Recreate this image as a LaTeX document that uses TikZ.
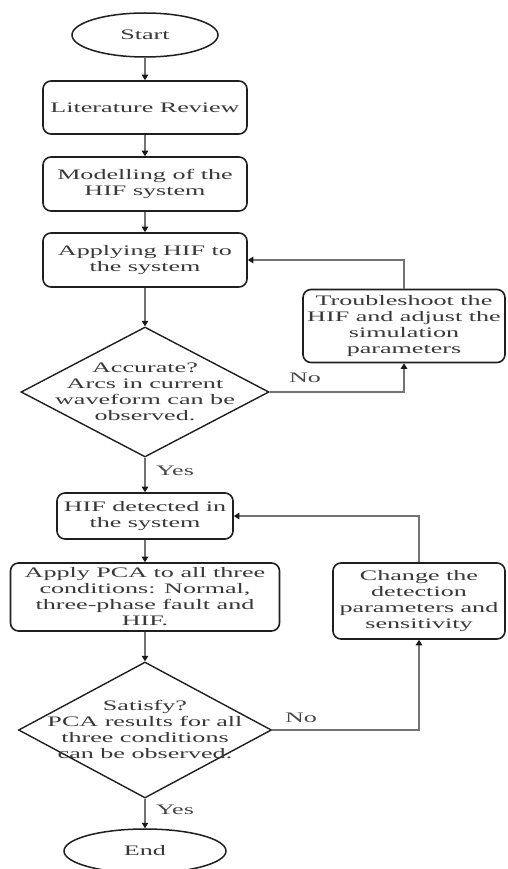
\documentclass[tikz,border=0pt]{standalone}
\usepackage{fontspec}
\setmainfont{Liberation Serif}[FakeStretch=1.8]
\usetikzlibrary{shapes.geometric,arrows.meta}
\begin{document}
\begin{tikzpicture}[x=1pt,y=-1pt,
  every node/.style={font=\fontsize{14.5}{16}\selectfont, text=black!78, align=center},
  box/.style={draw=black!88, line width=1.6pt, rounded corners=8pt, fill=white, inner sep=0pt},
  term/.style={ellipse, draw=black!88, line width=1.5pt, inner sep=0pt},
  dia/.style={diamond, draw=black!88, line width=1.4pt, inner sep=0pt},
  conn/.style={draw=black!55, line width=1.2pt, -{Triangle[width=6.5pt,length=5.5pt,color=black!90]}},
  lbl/.style={text=black!72}]
\useasboundingbox (0,0) rectangle (507,869);
\fill[white] (0,0) rectangle (507,869);

\node[term, minimum width=146pt, minimum height=44pt] (start) at (145,35) {Start};
\node[box, minimum width=204pt, minimum height=53pt] (lit) at (145,107.5) {Literature Review};
\node[box, minimum width=204pt, minimum height=54pt] (model) at (145,184) {Modelling of the\\HIF system};
\node[box, minimum width=204pt, minimum height=54pt] (apply) at (145,260) {Applying HIF to\\the system};
\node[dia, minimum width=248pt, minimum height=130pt] (dec1) at (145,392) {};
\node (dec1t) at (145,392) {Accurate?\\Arcs in current\\waveform can be\\observed.};
\node[box, minimum width=202pt, minimum height=73pt] (trouble) at (404,326) {Troubleshoot the\\HIF and adjust the\\simulation\\parameters};
\node[box, minimum width=176pt, minimum height=46pt] (hif) at (145,516) {HIF detected in\\the system};
\node[box, minimum width=269pt, minimum height=68pt] (pca) at (145,597) {Apply PCA to all three\\conditions: Normal,\\three-phase fault and\\HIF.};
\node[box, minimum width=172pt, minimum height=76pt] (change) at (419,601) {Change the\\detection\\parameters and\\sensitivity};
\node[dia, minimum width=253pt, minimum height=136pt] (dec2) at (145,730) {};
\node (dec2t) at (145,729) {Satisfy?\\PCA results for all\\three conditions\\can be observed.};
\node[term, minimum width=162pt, minimum height=44pt] (end) at (145,851) {End};

\node[lbl] (no1) at (305,378) {No};
\node[lbl] (yes1) at (175,471) {Yes};
\node[lbl] (no2) at (301,718) {No};
\node[lbl] (yes2) at (175,810) {Yes};

\draw[conn] (start) -- (lit);
\draw[conn] (lit) -- (model);
\draw[conn] (model) -- (apply);
\draw[conn] (apply) -- (dec1);
\draw[conn] (dec1) -- (hif);
\draw[conn] (hif) -- (pca);
\draw[conn] (pca) -- (dec2);
\draw[conn] (dec2) -- (end);
\draw[conn] (dec1.east) -| (trouble.south);
\draw[conn] (trouble.north) |- (apply.east);
\draw[conn] (dec2.east) -| (change.south);
\draw[conn] (change.north) |- (hif.east);
\end{tikzpicture}
\end{document}
